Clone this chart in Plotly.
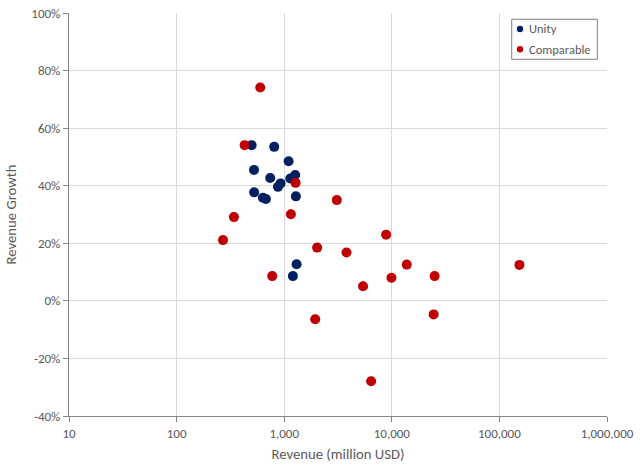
import plotly.graph_objects as go

# Unity series
unity_revenue = [498, 807, 1099, 524, 741, 1265, 1137, 926, 875, 526, 634, 676, 1284, 1304, 1205]
unity_growth = [0.541, 0.535, 0.485, 0.455, 0.427, 0.437, 0.425, 0.408, 0.396, 0.377, 0.358, 0.354, 0.363, 0.127, 0.086]

# Comparable series
comp_revenue = [599, 429, 1276, 3084, 341, 1154, 270, 8856, 2023, 3794, 13770, 25000, 774, 9930, 5405, 24500, 1942, 6424, 153500]
comp_growth = [0.741, 0.541, 0.410, 0.350, 0.291, 0.301, 0.211, 0.230, 0.185, 0.168, 0.126, 0.086, 0.086, 0.080, 0.051, -0.047, -0.064, -0.279, 0.125]

series_names = ["Unity", "Comparable"]
series_colors = ["#002060", "#C00000"]

x_tickvals = [10, 100, 1000, 10000, 100000, 1000000]
x_ticktext = ["10", "100", "1,000", "10,000", "100,000", "1,000,000"]
y_tickvals = [-0.4, -0.2, 0.0, 0.2, 0.4, 0.6, 0.8, 1.0]
y_ticktext = ["-40%", "-20%", "0%", "20%", "40%", "60%", "80%", "100%"]

FONT = "Carlito, Lato, sans-serif"
TXT = "#595959"
AX = "#868686"
GRID = "#D9D9D9"

fig = go.Figure()
fig.add_trace(go.Scatter(
    x=unity_revenue, y=unity_growth, mode="markers", name=series_names[0],
    marker=dict(color=series_colors[0], size=10, line=dict(width=0)),
))
fig.add_trace(go.Scatter(
    x=comp_revenue, y=comp_growth, mode="markers", name=series_names[1],
    marker=dict(color=series_colors[1], size=10, line=dict(width=0)),
))

# Custom legend (box, small dots, labels) in paper coordinates
shapes = [dict(type="rect", xref="paper", yref="paper",
               x0=0.8229, x1=0.9820, y0=0.8851, y1=0.9844,
               line=dict(color="#7F7F7F", width=1), fillcolor="white", layer="above")]
annotations = []
row_y = [0.9603, 0.9099]
for name, col, yy in zip(series_names, series_colors, row_y):
    shapes.append(dict(type="circle", xref="paper", yref="paper",
                       xsizemode="pixel", ysizemode="pixel",
                       xanchor=0.8383, yanchor=yy, x0=-3.2, x1=3.2, y0=-3.2, y1=3.2,
                       fillcolor=col, line=dict(width=0), layer="above"))
    annotations.append(dict(xref="paper", yref="paper", x=0.8515, y=yy,
                            xanchor="left", yanchor="middle", showarrow=False,
                            text=name, font=dict(family=FONT, size=12.5, color=TXT)))

fig.update_layout(
    width=640, height=465,
    margin=dict(l=69, r=33, t=13, b=49, autoexpand=False),
    paper_bgcolor="white", plot_bgcolor="white",
    font=dict(family=FONT, size=13, color=TXT),
    showlegend=False,
    shapes=shapes, annotations=annotations,
    xaxis=dict(
        type="log", range=[1, 6],
        tickvals=x_tickvals, ticktext=x_ticktext,
        showgrid=True, gridcolor=GRID, gridwidth=1,
        showline=True, linecolor=AX, linewidth=1,
        ticks="outside", ticklen=5, tickcolor=AX,
        zeroline=False, automargin=False,
        title=dict(text="Revenue (million USD)", font=dict(family=FONT, size=14.7, color=TXT), standoff=9),
        tickfont=dict(family=FONT, size=13, color=TXT),
    ),
    yaxis=dict(
        range=[-0.4, 1.0],
        tickvals=y_tickvals, ticktext=y_ticktext,
        showgrid=True, gridcolor=GRID, gridwidth=1,
        showline=True, linecolor=AX, linewidth=1,
        ticks="outside", ticklen=5, tickcolor=AX,
        zeroline=False, automargin=False,
        title=dict(text="Revenue Growth", font=dict(family=FONT, size=14.7, color=TXT), standoff=11),
        tickfont=dict(family=FONT, size=13, color=TXT),
    ),
)

fig.write_html("out.html", config={"displayModeBar": False},
               post_script="document.body.style.margin='0';")
